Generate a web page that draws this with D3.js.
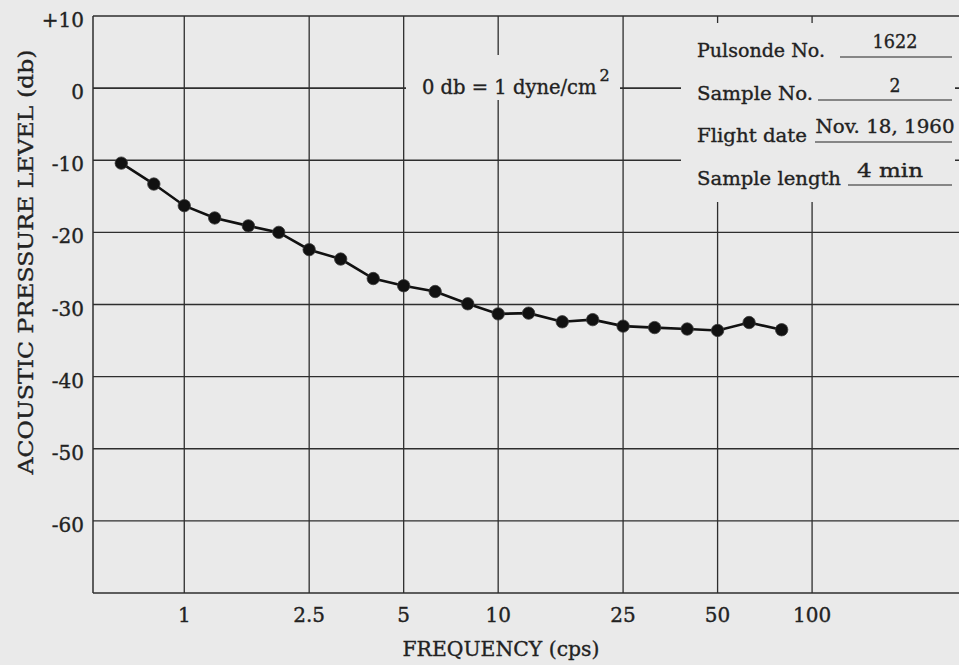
<!DOCTYPE html>
<html><head><meta charset="utf-8">
<script src="https://cdn.jsdelivr.net/npm/d3@7"></script>
<style>html,body{margin:0;padding:0;background:#eaeaea;} svg{display:block;}</style>
</head><body><svg id="c" width="959" height="665"></svg>
<script>
// ---- data ----
const freqs  = [0.63,0.8,1,1.25,1.6,2,2.5,3.15,4,5,6.3,8,10,12.5,16,20,25,31.5,40,50,63,80];
const levels = [-10.4,-13.3,-16.3,-18.0,-19.1,-20.0,-22.4,-23.7,-26.4,-27.4,-28.2,-29.9,-31.3,-31.2,-32.4,-32.1,-33.0,-33.2,-33.4,-33.6,-32.5,-33.5];
const xTicks = [1,2.5,5,10,25,50,100];
const xTickLabels = ["1","2.5","5","10","25","50","100"];
const yTicks = [10,0,-10,-20,-30,-40,-50,-60,-70];
const yTickLabels = ["+10","0","-10","-20","-30","-40","-50","-60",""];
const infoLabels = ["Pulsonde No.","Sample No.","Flight date","Sample length"];
const infoValues = ["1622","2","Nov. 18, 1960","4 min"];
const refNote = "0 db = 1 dyne/cm";

const svg = d3.select("#c");
const FONT = "'DejaVu Serif', serif";
const INK = "#222";
const BG = "#eaeaea";

const x = d3.scaleLog().domain([0.512, 307]).range([93, 965]);
const y = d3.scaleLinear().domain([-70, 10]).range([593, 16]);

svg.append("rect").attr("width",959).attr("height",665).attr("fill",BG);

// grid
const g = svg.append("g");
g.selectAll("line.h").data(yTicks).join("line")
  .attr("x1", x.range()[0]).attr("x2", x.range()[1])
  .attr("y1", d=>y(d)).attr("y2", d=>y(d))
  .attr("stroke", "#2e2e2e").attr("stroke-width", d=> d===0 ? 1.9 : 1.3);
g.selectAll("line.v").data(xTicks).join("line")
  .attr("x1", d=>x(d)).attr("x2", d=>x(d))
  .attr("y1", y(10)).attr("y2", y(-70))
  .attr("stroke", "#2e2e2e").attr("stroke-width", 1.3);
g.append("line").attr("x1", x.range()[0]).attr("x2", x.range()[0])
  .attr("y1", y(10)).attr("y2", y(-70)).attr("stroke", "#2e2e2e").attr("stroke-width", 1.5);

// masks behind annotations
svg.append("rect").attr("x",406).attr("y",55).attr("width",214).attr("height",45).attr("fill",BG);
svg.append("rect").attr("x",681).attr("y",23).attr("width",274).attr("height",179).attr("fill",BG);

function txt(sel){ return sel.attr("font-family",FONT).attr("fill",INK).attr("stroke",INK).attr("stroke-width",0.35); }

// tick labels
txt(svg.selectAll("text.yt").data(yTicks.filter((d,i)=>yTickLabels[i])).join("text"))
  .attr("x", 84).attr("y", d=>y(d)+11)
  .attr("text-anchor","end").attr("font-size",20)
  .text(d=>yTickLabels[yTicks.indexOf(d)]);
txt(svg.selectAll("text.xt").data(xTicks).join("text"))
  .attr("x", d=>x(d)).attr("y", 622)
  .attr("text-anchor","middle").attr("font-size",20)
  .text((d,i)=>xTickLabels[i]);

// axis titles
txt(svg.append("text")).attr("x",501).attr("y",656).attr("text-anchor","middle")
  .attr("font-size",21)
  .attr("textLength",197).attr("lengthAdjust","spacingAndGlyphs")
  .text("FREQUENCY (cps)");
txt(svg.append("text")).attr("transform","translate(33,262) rotate(-90)").attr("text-anchor","middle")
  .attr("font-size",21)
  .attr("textLength",425).attr("lengthAdjust","spacingAndGlyphs")
  .text("ACOUSTIC PRESSURE LEVEL (db)");

// reference note (single text with superscript tspan)
const note = txt(svg.append("text")).attr("x",422).attr("y",94).attr("font-size",19.5);
note.append("tspan").text(refNote);
note.append("tspan").attr("dx",3).attr("dy",-13).attr("font-size",16).text("2");

// info block
const infoBase = [57,100,142,185];
const infoLen = [128,116,110,144];
const ulStart = [840,818,815,848];
const valCx = [895,895,885,890];
const valBase = [48,92,133,177];
const valLen = [45,11,139,66];
infoLabels.forEach((t,i)=>{
  txt(svg.append("text")).attr("x",697).attr("y",infoBase[i])
    .attr("font-size",19)
    .attr("textLength",infoLen[i]).attr("lengthAdjust","spacingAndGlyphs").text(t);
  svg.append("line").attr("x1",ulStart[i]).attr("x2",952)
    .attr("y1",infoBase[i]).attr("y2",infoBase[i]).attr("stroke",INK).attr("stroke-width",1.2);
  txt(svg.append("text")).attr("x",valCx[i]).attr("y",valBase[i]).attr("text-anchor","middle")
    .attr("font-size",19)
    .attr("textLength",valLen[i]).attr("lengthAdjust","spacingAndGlyphs").text(infoValues[i]);
});

// data
const pts = freqs.map((f,i)=>({f, v: levels[i]}));
svg.append("path").datum(pts)
  .attr("d", d3.line().x(d=>x(d.f)).y(d=>y(d.v)))
  .attr("fill","none").attr("stroke","#111").attr("stroke-width",2.6);
svg.selectAll("circle.p").data(pts).join("circle")
  .attr("cx", d=>x(d.f)).attr("cy", d=>y(d.v)).attr("r", 6.2)
  .attr("fill","#111").attr("stroke","#3a3a3a").attr("stroke-width",0.8);
</script>
</body></html>
